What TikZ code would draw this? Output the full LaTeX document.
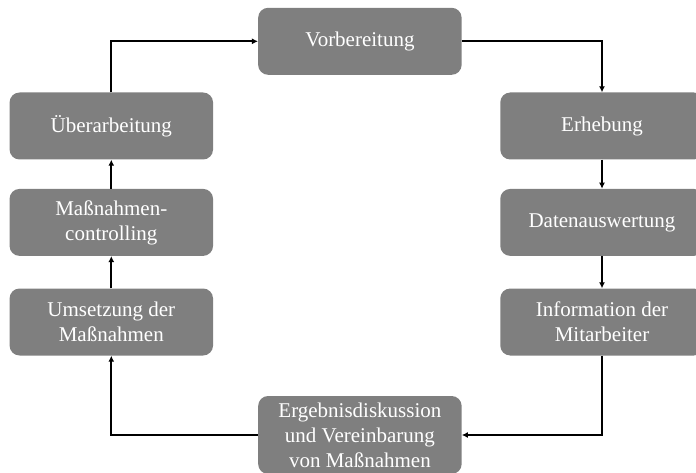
\documentclass[tikz,border=0pt]{standalone}
\usepackage{fontspec}
\setmainfont{Liberation Serif}
\usetikzlibrary{arrows.meta}
\begin{document}
\begin{tikzpicture}[x=1pt,y=-1pt,
  box/.style={fill=boxgray, rounded corners=10pt, minimum width=203.5pt, minimum height=67pt,
    text=white, align=center, inner sep=0pt, font=\fontsize{21}{25}\selectfont},
  conn/.style={line width=1.8pt, -{Latex[length=6pt,width=6pt]}}]
\definecolor{boxgray}{RGB}{127,127,127}
\useasboundingbox (0,0) rectangle (696,473);
\clip (0,0) rectangle (696,473);
\node[box] (vor) at (359.9,41.3) {Vorbereitung};
\node[box] (erh) at (602,126) {Erhebung};
\node[box] (dat) at (602,222.4) {Datenauswertung};
\node[box] (inf) at (602,322) {Information der\\Mitarbeiter};
\node[box, minimum height=78pt] (erg) at (359.9,435) {Ergebnisdiskussion\\und Vereinbarung\\von Maßnahmen};
\node[box] (ums) at (111.3,322) {Umsetzung der\\Maßnahmen};
\node[box] (mas) at (111.3,222.4) {Maßnahmen-\\controlling};
\node[box] (ueb) at (111.3,126) {Überarbeitung};
\draw[conn] (vor.east) -| (erh.north);
\draw[conn] (erh) -- (dat);
\draw[conn] (dat) -- (inf);
\draw[conn] (inf.south) |- (erg.east);
\draw[conn] (erg.west) -| (ums.south);
\draw[conn] (ums) -- (mas);
\draw[conn] (mas) -- (ueb);
\draw[conn] (ueb.north) |- (vor.west);
\end{tikzpicture}
\end{document}
